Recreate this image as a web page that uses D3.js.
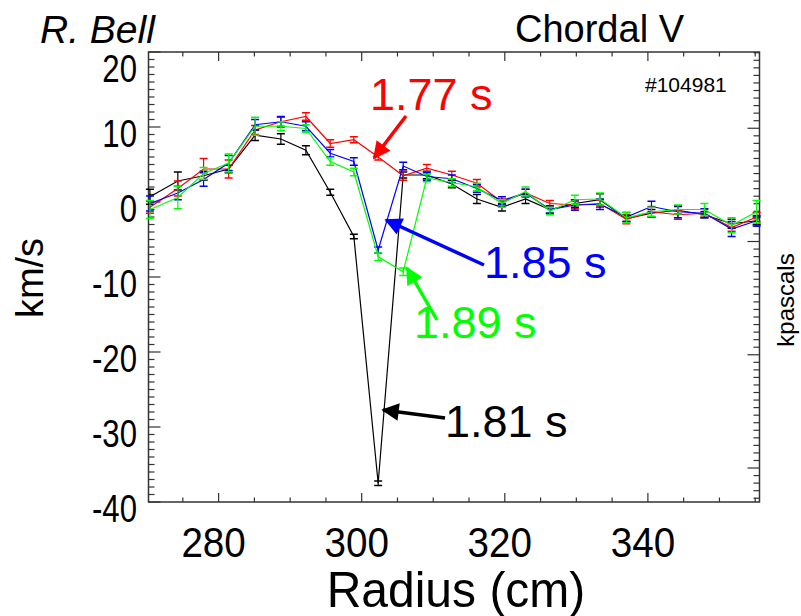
<!DOCTYPE html>
<html>
<head>
<meta charset="utf-8">
<script src="https://cdn.jsdelivr.net/npm/d3@7"></script>
<style>
  body { margin: 0; background: #fff; }
  svg { display: block; font-family: "Liberation Sans", Arial, sans-serif; }
</style>
</head>
<body>
<svg id="chart" width="801" height="616"></svg>
<script>
// Radius positions (cm) of the chords
const radius = [270.4, 274.3, 277.9, 281.4, 285.1, 288.7, 292.2, 295.6, 298.9, 302.3, 305.8, 309.1,
  312.6, 316.1, 319.6, 322.9, 326.3, 329.8, 333.3, 337.0, 340.5, 344.2, 347.9, 351.7, 355.2];

// Chordal velocity (km/s) per time slice
const v181 = [0.7, 2.8, 3.5, 4.4, 8.9, 8.4, 6.9, 1.3, -4.6, -37.5, 3.6, 3.6, 2.4, 0.4, -0.7, 0.4,
  -1.0, -0.2, 0.3, -2.2, -1.5, -1.1, -1.7, -2.9, -2.5];
const v177 = [-0.7, 1.8, 4.4, 4.4, 9.6, 10.7, 11.4, 7.8, 8.3, 6.0, 3.5, 4.5, 3.6, 2.5, 0.0, 1.2,
  -0.2, -0.4, -0.2, -2.3, -1.3, -1.7, -1.5, -3.4, -2.0];
const v185 = [-0.2, 1.2, 3.0, 5.2, 10.3, 10.7, 10.1, 6.5, 5.4, -6.4, 4.8, 3.4, 3.1, 1.8, 0.2, 1.2,
  -1.0, -0.4, -0.3, -2.0, -0.6, -1.3, -1.5, -3.6, -2.5];
const v189 = [-1.0, 0.6, 3.8, 5.2, 10.1, 10.1, 9.8, 5.4, 4.0, -7.3, -9.3, 3.2, 2.6, 2.0, -0.2, 1.4,
  -1.2, 0.3, 0.4, -2.1, -1.3, -1.0, -1.0, -3.1, -1.3];

// Error bar half-widths (km/s)
const e181 = [1.0, 1.2, 0.6, 0.5, 0.7, 0.7, 0.6, 0.4, 0.3, 0.3, 0.4, 0.5, 0.5, 0.6, 0.5, 0.6,
  0.5, 0.5, 0.8, 0.4, 0.5, 0.5, 0.4, 0.6, 0.5];
const e177 = [0.8, 1.0, 1.4, 1.2, 0.6, 0.6, 0.5, 0.5, 0.4, 0.4, 0.6, 0.5, 0.5, 0.5, 0.4, 0.5,
  0.4, 0.5, 0.5, 0.6, 0.7, 0.6, 0.5, 0.5, 0.6];
const e185 = [1.0, 0.9, 0.9, 1.0, 0.7, 0.7, 0.6, 0.5, 0.5, 0.4, 0.5, 0.5, 0.5, 0.5, 0.5, 0.5,
  0.5, 0.7, 0.7, 0.6, 0.7, 0.8, 0.6, 1.0, 0.7];
const e189 = [1.2, 1.5, 0.8, 1.2, 1.2, 0.6, 0.5, 0.5, 0.5, 0.5, 0.5, 0.5, 0.5, 0.5, 0.5, 0.6,
  0.5, 0.6, 0.8, 0.7, 0.6, 0.6, 0.8, 1.0, 1.5];

const xTicks = [280, 300, 320, 340];
const yTicks = [20, 10, 0, -10, -20, -30, -40];

const series = [
  { name: '1.81 s', values: v181, errors: e181, color: '#000000' },
  { name: '1.77 s', values: v177, errors: e177, color: '#ff0000' },
  { name: '1.85 s', values: v185, errors: e185, color: '#0000ff' },
  { name: '1.89 s', values: v189, errors: e189, color: '#00ff00' }
];

const svg = d3.select('#chart');
const plotLeft = 148.5, plotRight = 759.5, plotTop = 52, plotBottom = 502;

const x = d3.scaleLinear().domain([270.2, 355.6]).range([plotLeft, plotRight]);
const y = d3.scaleLinear().domain([-40, 20]).range([plotBottom, plotTop]);
// right-hand kpascals axis (no labels, ticks only)
const yr = d3.scaleLinear().domain([-4.5, 55.1]).range([plotBottom, plotTop]);

const axisColor = '#333';

// Frame
svg.append('rect')
  .attr('x', plotLeft).attr('y', plotTop)
  .attr('width', plotRight - plotLeft).attr('height', plotBottom - plotTop)
  .attr('fill', 'none').attr('stroke', axisColor).attr('stroke-width', 1.5);

// Bottom/top ticks
const xMinor = d3.range(275, 356, 5);
xMinor.forEach(v => {
  const major = xTicks.includes(v);
  const len = major ? 9 : 4.5;
  const px = x(v);
  svg.append('line').attr('x1', px).attr('x2', px).attr('y1', plotBottom).attr('y2', plotBottom - len)
    .attr('stroke', axisColor).attr('stroke-width', 1.2);
  svg.append('line').attr('x1', px).attr('x2', px).attr('y1', plotTop).attr('y2', plotTop + len)
    .attr('stroke', axisColor).attr('stroke-width', 1.2);
});

// Left ticks
d3.range(-40, 21, 1).forEach(v => {
  const major = v % 10 === 0;
  const len = major ? 12 : 6;
  svg.append('line').attr('x1', plotLeft).attr('x2', plotLeft + len).attr('y1', y(v)).attr('y2', y(v))
    .attr('stroke', axisColor).attr('stroke-width', 1.2);
});

// Right ticks
d3.range(-4, 56, 1).forEach(v => {
  const major = v % 15 === 0;
  const len = major ? 12 : 6;
  svg.append('line').attr('x1', plotRight).attr('x2', plotRight - len).attr('y1', yr(v)).attr('y2', yr(v))
    .attr('stroke', axisColor).attr('stroke-width', 1.2);
});

// Tick labels (tall, slightly condensed like the original plot font)
svg.append('g').selectAll('text').data(xTicks).join('text')
  .attr('transform', d => `translate(${x(d) - 5},557) scale(0.92,1)`)
  .attr('text-anchor', 'middle').attr('font-size', 42)
  .text(d => d);

svg.append('g').selectAll('text').data(yTicks).join('text')
  .attr('transform', d => `translate(137,${y(d) + (d === 20 ? 30 : 20)}) scale(0.82,1)`)
  .attr('text-anchor', 'end').attr('font-size', 38)
  .text(d => d);

// Series: lines, error bars
const line = d3.line().x((d, i) => x(radius[i])).y(d => y(d));
series.forEach(s => {
  const g = svg.append('g');
  g.append('path').attr('d', line(s.values))
    .attr('fill', 'none').attr('stroke', s.color).attr('stroke-width', 1.2);
  s.values.forEach((v, i) => {
    const px = x(radius[i]);
    const y0 = y(v - s.errors[i]), y1 = y(v + s.errors[i]);
    g.append('line').attr('x1', px).attr('x2', px).attr('y1', y0).attr('y2', y1)
      .attr('stroke', s.color).attr('stroke-width', 1.2);
    [y0, y1].forEach(yy => {
      g.append('line').attr('x1', px - 4).attr('x2', px + 4).attr('y1', yy).attr('y2', yy)
        .attr('stroke', s.color).attr('stroke-width', 1.5);
    });
  });
});

// Annotations with arrows
const defs = svg.append('defs');
series.forEach((s, k) => {
  defs.append('marker').attr('id', 'arr' + k)
    .attr('viewBox', '0 0 10 10').attr('refX', 9).attr('refY', 5)
    .attr('markerWidth', 6).attr('markerHeight', 5).attr('orient', 'auto')
    .attr('markerUnits', 'strokeWidth')
    .append('path').attr('d', 'M0,0L10,5L0,10Z').attr('fill', s.color);
});

const notes = [
  { k: 1, tx: 370, ty: 110, from: [406, 116], to: [374, 158] },
  { k: 2, tx: 484, ty: 278, from: [484, 265], to: [386, 220] },
  { k: 3, tx: 414, ty: 338, from: [437, 320], to: [407, 268] },
  { k: 0, tx: 445, ty: 437, from: [445, 418], to: [383, 410] }
];
notes.forEach(n => {
  const s = series[n.k];
  svg.append('line')
    .attr('x1', n.from[0]).attr('y1', n.from[1]).attr('x2', n.to[0]).attr('y2', n.to[1])
    .attr('stroke', s.color).attr('stroke-width', 3.5)
    .attr('marker-end', `url(#arr${n.k})`);
  svg.append('text').attr('x', n.tx).attr('y', n.ty)
    .attr('font-size', 45).attr('fill', s.color).text(s.name);
});

// Titles
svg.append('text').attr('x', 40).attr('y', 43).attr('font-size', 39)
  .attr('font-style', 'italic').text('R. Bell');
svg.append('text').attr('x', 515).attr('y', 42).attr('font-size', 38).text('Chordal V');
svg.append('text').attr('x', 645).attr('y', 92).attr('font-size', 21).text('#104981');

// Axis titles
svg.append('text').attr('transform', 'translate(456,607) scale(0.96,1)').attr('text-anchor', 'middle')
  .attr('font-size', 50).text('Radius (cm)');
svg.append('text').attr('transform', 'translate(43,278) rotate(-90)')
  .attr('text-anchor', 'middle').attr('font-size', 38).text('km/s');
svg.append('text').attr('transform', 'translate(794,300) rotate(-90)')
  .attr('text-anchor', 'middle').attr('font-size', 24).text('kpascals');
</script>
</body>
</html>
